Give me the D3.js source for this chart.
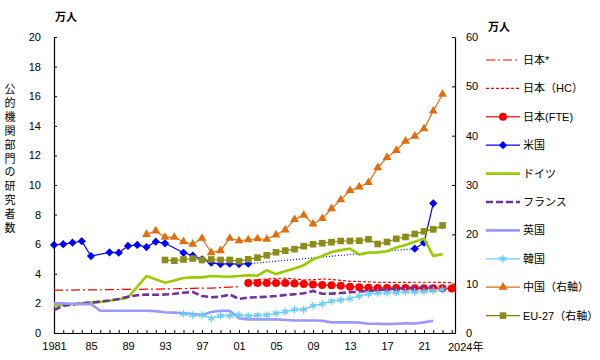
<!DOCTYPE html>
<html><head><meta charset="utf-8">
<script src="https://cdn.jsdelivr.net/npm/d3@7"></script>
<style>
body{margin:0;background:#fff;}
svg text{font-family:"Liberation Sans","Noto Sans CJK JP",sans-serif;font-size:11px;fill:#000;}
</style></head><body>
<svg id="c" width="600" height="360"></svg>
<script>
// ---- data (万人; China & EU-27 on right axis) ----
const japanStarYears = d3.range(1981, 2002);
const japanStar = [2.9,2.9,2.9,2.91,2.92,2.92,2.93,2.94,2.95,2.95,2.96,2.97,2.98,2.99,3.0,3.02,3.03,3.03,3.07,3.1,3.12];

const japanHCYears = d3.range(2002, 2025);
const japanHC = [3.55,3.6,3.65,3.7,3.7,3.65,3.58,3.6,3.65,3.62,3.55,3.5,3.48,3.45,3.43,3.42,3.42,3.42,3.43,3.43,3.43,3.42,3.4];

const japanFTEYears = d3.range(2002, 2025);
const japanFTE = [3.38,3.38,3.38,3.38,3.38,3.34,3.31,3.27,3.24,3.22,3.2,3.13,3.09,3.06,3.04,3.04,3.04,3.04,3.02,3.02,3.02,3.03,3.0];

const usYears = [1981,1982,1983,1984,1985,1987,1988,1989,1990,1991,1992,1993,1995,1996,1997,1998,1999,2000,2001,2002];
const us = [5.95,6.0,6.1,6.2,5.2,5.45,5.43,5.88,5.95,5.81,6.17,6.06,5.42,5.23,4.98,4.75,4.66,4.68,4.66,4.68];
const usLateYears = [2002,2020];
const usLate = [4.68,5.7];
const usRecentYears = [2020,2021,2022];
const usRecent = [5.7,6.1,8.76];

const germanyYears = [1981,1982,1983,1984,1985,1986,1987,1988,1989,1991,1993,1994,1995,1996,1997,1998,1999,2000,2001,2002,2003,2004,2005,2006,2007,2008,2009,2010,2011,2012,2013,2014,2015,2016,2017,2018,2019,2020,2021,2022,2023];
const germany = [1.85,1.9,1.95,2.0,2.05,2.1,2.18,2.28,2.4,3.85,3.4,3.55,3.72,3.76,3.76,3.85,3.82,3.8,3.85,3.9,3.87,4.24,3.98,4.17,4.36,4.58,4.98,5.2,5.47,5.6,5.7,5.3,5.43,5.45,5.52,5.77,5.95,6.17,6.38,5.2,5.33];

const franceYears = d3.range(1981, 2023);
const france = [1.55,1.85,1.92,2.0,2.06,2.12,2.2,2.3,2.45,2.55,2.6,2.58,2.6,2.65,2.72,2.77,2.5,2.42,2.45,2.6,2.3,2.4,2.42,2.45,2.5,2.57,2.62,2.68,2.84,2.65,2.66,2.7,2.75,2.8,2.83,2.9,2.95,3.0,3.02,3.05,3.07,3.15];

const ukYears = d3.range(1981, 2023);
const uk = [2.0,2.0,1.98,1.95,1.95,1.5,1.5,1.5,1.5,1.5,1.5,1.48,1.4,1.38,1.33,1.28,1.22,1.42,1.5,1.5,1.0,0.92,0.92,0.92,0.92,0.88,0.84,0.84,0.84,0.83,0.72,0.72,0.72,0.7,0.62,0.62,0.6,0.62,0.65,0.64,0.72,0.83];

const koreaYears = d3.range(1995, 2024);
const korea = [1.3,1.22,1.22,0.99,1.17,1.17,1.22,1.15,1.2,1.22,1.33,1.44,1.58,1.58,1.85,1.97,2.15,2.23,2.32,2.5,2.64,2.7,2.72,2.74,2.78,2.78,2.8,2.86,2.93];

const chinaYears = d3.range(1991, 2024);
const china = [20.0,20.7,19.4,19.4,18.5,18.0,19.2,16.3,16.7,19.2,18.7,18.9,19.1,19.0,19.9,20.9,23.0,23.9,22.1,23.2,25.2,27.0,28.9,29.6,30.5,33.5,35.6,37.0,38.9,39.9,41.4,45.0,48.4];

const euYears = d3.range(1993, 2024);
const eu = [14.8,14.66,14.9,15.1,14.8,14.9,14.8,14.8,14.55,14.93,15.27,15.75,16.36,16.7,17.0,17.6,18.0,18.2,18.4,18.65,18.65,18.7,19.0,18.04,18.45,19.1,19.46,20.07,20.6,21.0,21.8];

const leftTicks = d3.range(0, 21, 2);
const rightTicks = d3.range(0, 61, 10);
const xLabelYears = [1981,1985,1989,1993,1997,2001,2005,2009,2013,2017,2021];
const xLabels = ["1981","85","89","93","97","01","05","09","13","17","21"];
const legendLabels = ["日本*","日本（HC）","日本(FTE)","米国","ドイツ","フランス","英国","韓国","中国（右軸）","EU-27（右軸）"];
const yTitle = "公的機関部門の研究者数";

// ---- layout ----
const svg = d3.select("#c");
const X0 = 54, X1 = 455, Y0 = 333, Y1 = 37;
const x = d3.scaleLinear().domain([1981, 2024.35]).range([X0, X1]);
const y = d3.scaleLinear().domain([0, 20]).range([Y0, Y1]);
const y2 = d3.scaleLinear().domain([0, 60]).range([Y0, Y1]);

// axes
const gl = svg.append("g").attr("transform", `translate(${X0},0)`)
  .call(d3.axisLeft(y).tickValues(leftTicks).tickSizeInner(-3).tickSizeOuter(0).tickPadding(13));
const gr = svg.append("g").attr("transform", `translate(${X1},0)`)
  .call(d3.axisRight(y2).tickValues(rightTicks).tickSizeInner(-3).tickSizeOuter(0).tickPadding(11));
const gb = svg.append("g").attr("transform", `translate(0,${Y0})`)
  .call(d3.axisBottom(x).tickValues(d3.range(1981, 2025)).tickSizeInner(-3).tickSizeOuter(0).tickPadding(9)
    .tickFormat(d => { const i = xLabelYears.indexOf(d); return i >= 0 ? xLabels[i] : ""; }));
[gl, gr, gb].forEach(g => {
  g.selectAll("path.domain").attr("stroke", "#000").attr("stroke-width", 1.2);
  g.selectAll(".tick line").attr("stroke", "#000").attr("stroke-width", 1);
  g.selectAll("text").attr("font-size", 11).attr("fill", "#000").attr("font-family", null);
});
gb.append("text").attr("x", 448 ).attr("y", 18).attr("text-anchor", "start").text("2024年");

svg.append("text").attr("x", 55).attr("y", 21).attr("font-weight", "bold").text("万人");
svg.append("text").attr("x", 488).attr("y", 31).attr("font-weight", "bold").text("万人");

const vt = svg.append("text").attr("text-anchor", "middle").attr("font-size", 12);
yTitle.split("").forEach((ch, i) => {
  vt.append("tspan").attr("x", 10).attr("y", 93 + i * 13.9).text(ch);
});

// ---- series ----
function pts(years, vals) { return years.map((yr, i) => [yr, vals[i]]); }
const lineL = d3.line().x(d => x(d[0])).y(d => y(d[1]));
const lineR = d3.line().x(d => x(d[0])).y(d => y2(d[1]));

const sym = {
  circle: d3.symbol().type(d3.symbolCircle).size(50),
  diamond: d3.symbol().type(d3.symbolSquare).size(34),
  triangle: d3.symbol().type(d3.symbolTriangle).size(34),
  square: d3.symbol().type(d3.symbolSquare).size(44),
  star: d3.symbol().type(d3.symbolAsterisk).size(40)
};

const series = [
  {data: pts(japanStarYears, japanStar), yS: lineL, ys: y, color: "#ff0000", w: 1.2, dash: "9,3,2,3"},
  {data: pts(japanHCYears, japanHC), yS: lineL, ys: y, color: "#ff0000", w: 1.2, dash: "3,2"},
  {data: pts(japanFTEYears, japanFTE), yS: lineL, ys: y, color: "#ff3333", w: 1.5, marker: "circle", mcolor: "#ff0000"},
  {data: pts(usYears, us), yS: lineL, ys: y, color: "#0000ff", w: 1.2, marker: "diamond"},
  {data: pts(usLateYears, usLate), yS: lineL, ys: y, color: "#0000ff", w: 1.2, dash: "1,2"},
  {data: pts(usRecentYears, usRecent), yS: lineL, ys: y, color: "#0000ff", w: 1.2, marker: "diamond"},
  {data: pts(germanyYears, germany), yS: lineL, ys: y, color: "#99cc00", w: 2.6},
  {data: pts(franceYears, france), yS: lineL, ys: y, color: "#7030a0", w: 2.6, dash: "7,3"},
  {data: pts(ukYears, uk), yS: lineL, ys: y, color: "#9999ff", w: 2.6},
  {data: pts(koreaYears, korea), yS: lineL, ys: y, color: "#66ccff", w: 1.2, marker: "star"},
  {data: pts(chinaYears, china), yS: lineR, ys: y2, color: "#e46c0a", w: 1.2, marker: "triangle"},
  {data: pts(euYears, eu), yS: lineR, ys: y2, color: "#808000", w: 1.2, marker: "square", mcolor: "#8c8c1a"}
];

series.forEach(s => {
  svg.append("path").attr("d", s.yS(s.data)).attr("fill", "none")
    .attr("stroke", s.color).attr("stroke-width", s.w)
    .attr("stroke-dasharray", s.dash || null);
  if (s.marker) {
    svg.append("g").selectAll("path").data(s.data).join("path")
      .attr("d", sym[s.marker]())
      .attr("transform", d => `translate(${x(d[0])},${s.ys(d[1])})` + (s.marker === "diamond" ? " rotate(45)" : ""))
      .attr("fill", s.marker === "star" ? "none" : (s.mcolor || s.color))
      .attr("stroke", s.marker === "star" ? s.color : "none")
      .attr("stroke-width", 1.3);
  }
});

// ---- legend ----
const legendStyles = [
  {color: "#ff0000", w: 1.2, dash: "9,3,2,3"},
  {color: "#ff0000", w: 1.2, dash: "3,2"},
  {color: "#ff3333", w: 1.5, marker: "circle", mcolor: "#ff0000"},
  {color: "#0000ff", w: 1.2, marker: "diamond"},
  {color: "#99cc00", w: 2.6},
  {color: "#7030a0", w: 2.6, dash: "7,3"},
  {color: "#9999ff", w: 2.6},
  {color: "#66ccff", w: 1.2, marker: "star"},
  {color: "#e46c0a", w: 1.2, marker: "triangle"},
  {color: "#808000", w: 1.2, marker: "square", mcolor: "#8c8c1a"}
];
const lg = svg.append("g");
legendLabels.forEach((lab, i) => {
  const ly = 60 + i * 28.4;
  const st = legendStyles[i];
  lg.append("line").attr("x1", 486).attr("x2", 520).attr("y1", ly).attr("y2", ly)
    .attr("stroke", st.color).attr("stroke-width", st.w).attr("stroke-dasharray", st.dash || null);
  if (st.marker) {
    lg.append("path").attr("d", sym[st.marker]())
      .attr("transform", `translate(503,${ly})` + (st.marker === "diamond" ? " rotate(45)" : ""))
      .attr("fill", st.marker === "star" ? "none" : (st.mcolor || st.color))
      .attr("stroke", st.marker === "star" ? st.color : "none").attr("stroke-width", 1.3);
  }
  lg.append("text").attr("x", 523).attr("y", ly + 4).text(lab);
});
</script>
</body></html>
